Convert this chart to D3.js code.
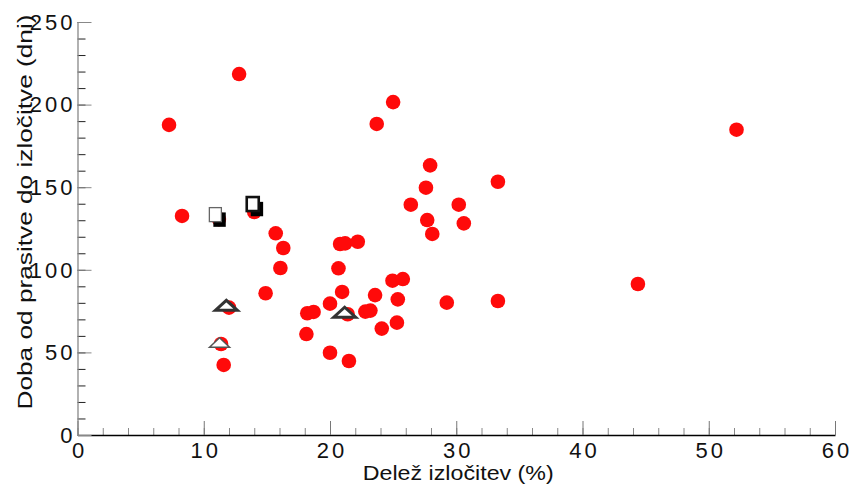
<!DOCTYPE html>
<html>
<head>
<meta charset="utf-8">
<script src="https://cdn.jsdelivr.net/npm/d3@7"></script>
<style>
  body { margin: 0; background: #fff; }
  text { font-family: "Liberation Sans", Arial, Helvetica, sans-serif; }
</style>
</head>
<body>
<div id="chart"></div>
<script>
// delež izločitev (%) / doba od prasitve do izločitve (dni)
var dotX = [7.25, 8.28, 12.8, 11.2, 14.0, 15.7, 16.3, 16.07, 14.9, 12.0, 11.37, 11.58,
            25.0, 23.7, 27.93, 27.6, 33.3, 26.4, 30.2, 27.7, 30.6, 28.1, 20.8, 21.2, 22.2,
            20.67, 24.95, 25.77, 20.96, 23.57, 25.37, 29.25, 33.3, 20.0, 18.2, 18.7, 21.4,
            22.8, 23.2, 18.13, 25.3, 24.1, 20.0, 21.5, 44.39, 52.2];
var dotY = [187.7, 132.6, 218.5, 130.7, 135.0, 122.1, 113.2, 101.1, 85.8, 77.1, 55.1, 42.4,
            201.5, 188.3, 163.2, 149.7, 153.3, 139.4, 139.4, 130.1, 128.1, 121.7, 115.6, 116.0, 117.0,
            100.9, 93.4, 94.4, 86.6, 84.7, 82.1, 80.1, 81.1, 79.5, 73.7, 74.5, 73.1,
            74.7, 75.3, 61.1, 68.0, 64.4, 49.8, 44.8, 91.4, 184.8];

var sqThinX = [10.92], sqThinY = [133.4];
var sqBoldX = [13.88], sqBoldY = [139.8];
var triBoldX = [11.79, 21.16], triBoldY = [78.5, 74.3];
var triThinX = [11.25], triThinY = [56.0];

var xTicks = [0, 10, 20, 30, 40, 50, 60];
var yTicks = [0, 50, 100, 150, 200, 250];

var totalWidth = 853, totalHeight = 485;
var margin = {top: 22, right: 18, bottom: 50, left: 77.5};
var width = totalWidth - margin.left - margin.right,
    height = totalHeight - margin.top - margin.bottom;

var svg = d3.select("#chart").append("svg")
    .attr("width", totalWidth)
    .attr("height", totalHeight)
  .append("g")
    .attr("transform", "translate(" + margin.left + "," + margin.top + ")");

var x = d3.scaleLinear().domain([0, 60]).range([0, width]);
var y = d3.scaleLinear().domain([0, 250]).range([height, 0]);

// minor ticks
svg.append("g")
    .attr("transform", "translate(0," + height + ")")
    .call(d3.axisBottom(x).tickValues(d3.range(0, 61, 2)).tickSize(-7).tickFormat(""))
    .call(function(g) { g.select(".domain").remove(); g.selectAll("line").attr("stroke", "#888"); });
svg.append("g")
    .call(d3.axisLeft(y).tickValues(d3.range(0, 251, 10)).tickSize(-8).tickFormat(""))
    .call(function(g) { g.select(".domain").remove(); g.selectAll("line").attr("stroke", "#222"); });

// major ticks + labels
var xAxis = svg.append("g")
    .attr("transform", "translate(0," + height + ")")
    .call(d3.axisBottom(x).tickValues(xTicks).tickSize(-14).tickSizeOuter(0).tickFormat(d3.format("d")));
xAxis.select(".domain").attr("stroke", "#000").attr("stroke-width", 1.3);
xAxis.selectAll("line").attr("stroke", "#777");
xAxis.selectAll("text").attr("font-size", 22).attr("fill", "#111")
    .attr("letter-spacing", "3px").attr("y", 7).attr("dy", "0.71em").attr("dx", 1.5);

var yAxis = svg.append("g")
    .call(d3.axisLeft(y).tickValues(yTicks).tickSize(-14).tickSizeOuter(0).tickPadding(2).tickFormat(d3.format("d")));
yAxis.select(".domain").attr("stroke", "#888").attr("stroke-width", 1.3);
yAxis.selectAll("line").attr("stroke", "#888");
yAxis.selectAll("text").attr("font-size", 22).attr("fill", "#111")
    .attr("letter-spacing", "3px").attr("dy", "0.33em");

// axis titles
svg.append("text")
    .attr("x", width / 2 + 2)
    .attr("y", height + 45)
    .attr("text-anchor", "middle")
    .attr("font-size", 21)
    .attr("textLength", 191)
    .attr("lengthAdjust", "spacingAndGlyphs")
    .attr("fill", "#111")
    .text("Delež izločitev (%)");

svg.append("text")
    .attr("transform", "translate(" + (-46) + "," + 190 + ") rotate(-90)")
    .attr("text-anchor", "middle")
    .attr("font-size", 20)
    .attr("textLength", 395)
    .attr("lengthAdjust", "spacingAndGlyphs")
    .attr("fill", "#111")
    .text("Doba od prasitve do izločitve (dni)");

// red dots
var dots = dotX.map(function(v, i) { return {x: v, y: dotY[i]}; });
svg.append("g")
  .selectAll("circle")
  .data(dots)
  .enter()
  .append("circle")
    .attr("cx", function(d) { return x(d.x); })
    .attr("cy", function(d) { return y(d.y); })
    .attr("r", 7.3)
    .style("fill", "#ff0a0a");

// squares: black shadow + white box
function squares(xs, ys, stroke, sw) {
  var data = xs.map(function(v, i) { return {x: v, y: ys[i]}; });
  var g = svg.append("g");
  g.selectAll("rect.shadow").data(data).enter().append("rect")
      .attr("x", function(d) { return x(d.x) - 2; })
      .attr("y", function(d) { return y(d.y) - 2.2; })
      .attr("width", 12.4).attr("height", 14.4)
      .style("fill", "#000");
  g.selectAll("rect.box").data(data).enter().append("rect")
      .attr("x", function(d) { return x(d.x) - 6; })
      .attr("y", function(d) { return y(d.y) - 7; })
      .attr("width", 12).attr("height", 14)
      .style("fill", "#fff").style("stroke", stroke).style("stroke-width", sw);
}
squares(sqThinX, sqThinY, "#666", 1.3);
squares(sqBoldX, sqBoldY, "#111", 2.6);

// triangles
function triangles(xs, ys, stroke, sw, w, h) {
  var data = xs.map(function(v, i) { return {x: v, y: ys[i]}; });
  svg.append("g").selectAll("path").data(data).enter().append("path")
      .attr("d", function(d) {
        var cx = x(d.x), cy = y(d.y);
        return "M" + (cx - w / 2) + "," + (cy + h / 2) + "L" + cx + "," + (cy - h / 2) + "L" + (cx + w / 2) + "," + (cy + h / 2) + "Z";
      })
      .style("fill", "#fff").style("stroke", stroke).style("stroke-width", sw)
      .style("stroke-linejoin", "miter");
}
triangles(triBoldX, triBoldY, "#333", 3, 22, 10);
triangles(triThinX, triThinY, "#555", 1.5, 20, 9.5);
</script>
</body>
</html>
